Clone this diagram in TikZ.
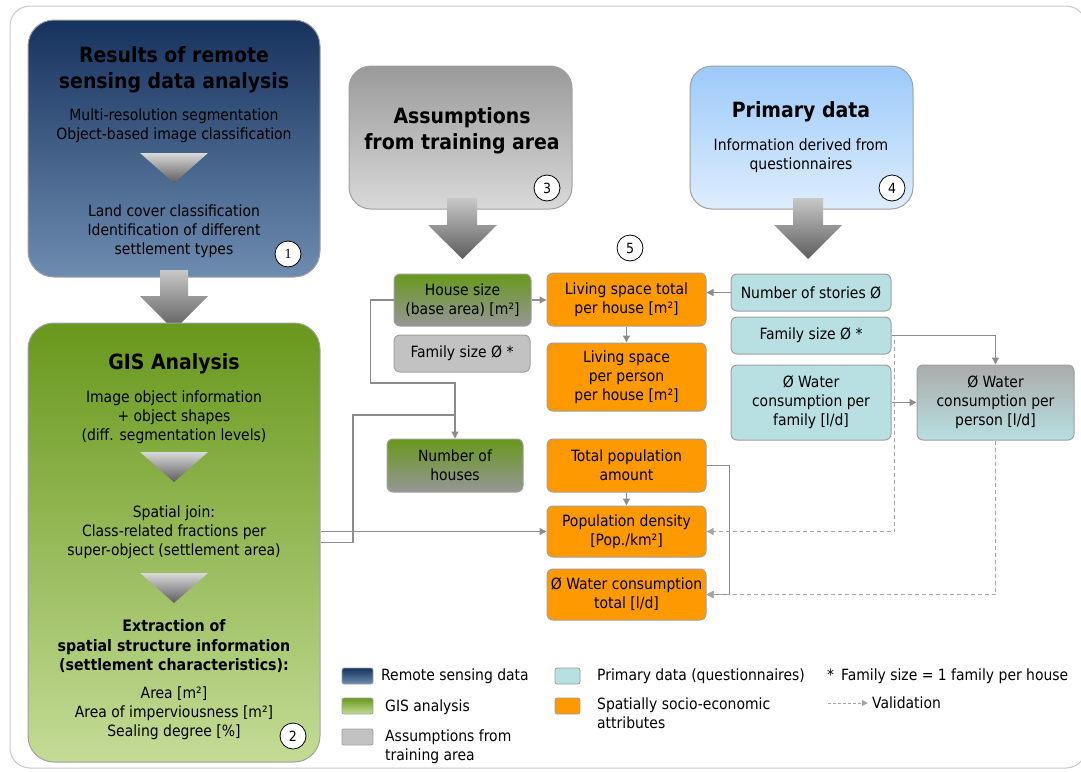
\documentclass[tikz,border=0pt]{standalone}
\usepackage{fontspec}
\setmainfont{DejaVu Sans Condensed}
\newfontfamily\numfont{Liberation Serif}
\usetikzlibrary{arrows.meta,calc}
\definecolor{navyT}{RGB}{22,50,94}
\definecolor{navyB}{RGB}{110,140,176}
\definecolor{greenT}{RGB}{104,152,28}
\definecolor{greenB}{RGB}{196,219,150}
\definecolor{grayT}{RGB}{154,154,154}
\definecolor{grayB}{RGB}{217,217,217}
\definecolor{skyT}{RGB}{156,202,250}
\definecolor{skyB}{RGB}{222,237,252}
\definecolor{arT}{RGB}{200,200,200}
\definecolor{arB}{RGB}{92,92,92}
\definecolor{orangeF}{RGB}{255,153,0}
\definecolor{tealF}{RGB}{184,223,225}
\definecolor{famgray}{RGB}{194,194,194}
\definecolor{bord}{RGB}{160,160,160}
\definecolor{connc}{RGB}{140,140,140}
\definecolor{dashc}{RGB}{165,165,165}
\definecolor{hgray}{RGB}{150,150,150}
\definecolor{frame}{RGB}{200,200,200}
\newcommand\fsN{\fontsize{15.5}{19}\selectfont}
\newcommand\fsT{\fontsize{21}{26}\selectfont\bfseries}
\newcommand\fsB{\fontsize{15.8}{19.5}\selectfont\bfseries}
\begin{document}
\begin{tikzpicture}[x=1pt,y=-1pt,
  bigbox/.style={draw=bord, line width=1pt, rounded corners=26pt, inner sep=0pt},
  sbox/.style={draw=bord, line width=1pt, rounded corners=6pt, inner sep=0pt, align=center, font=\fsN},
  txt/.style={inner sep=0pt, align=center, font=\fsN},
  ttl/.style={inner sep=0pt, align=center, font=\fsT},
  numc/.style={circle, draw=black, fill=white, line width=0.8pt, minimum size=26pt, inner sep=0pt, font=\fontsize{14}{16}\selectfont},
  conn/.style={draw=connc, line width=1.3pt, -{Triangle[length=7pt,width=7pt]}},
  line/.style={draw=connc, line width=1.3pt},
  dconn/.style={draw=dashc, line width=1.2pt, dash pattern=on 4pt off 3pt, -{Triangle[length=7pt,width=7pt]}},
  sw/.style={draw=bord, line width=0.8pt, rounded corners=2pt, inner sep=0pt},
  leg/.style={inner sep=0pt, font=\fsN, align=left}
]
\useasboundingbox (0,0) rectangle (1081,771);
% outer frame
\draw[frame, line width=1pt, rounded corners=20pt] (10,6) rectangle (1086,768);

% ---------- Box 1 ----------
\node[bigbox, top color=navyT, bottom color=navyB, minimum width=292pt, minimum height=257pt] (b1) at (174,148.5) {};
\node[ttl] (b1t) at (174,69.5) {Results of remote\\sensing data analysis};
\node[txt] (b1s) at (174,126) {Multi-resolution segmentation\\Object-based image classification};
\shade[top color=grayB, bottom color=arB] (140,153) -- (208,153) -- (174,183) -- cycle;
\node[txt] (b1r) at (174,231) {Land cover classification\\Identification of different\\settlement types};
\node[numc] (c1) at (288,254) {\numfont 1};

% arrow 1 -> 2
\shade[top color=arT, bottom color=arB] (160,270) -- (188,270) -- (188,296) -- (208,296) -- (174,330) -- (140,296) -- (160,296) -- cycle;

% ---------- Box 2 ----------
\node[bigbox, top color=greenT, bottom color=greenB, minimum width=292pt, minimum height=439pt] (b2) at (174,542.5) {};
\node[ttl] (b2t) at (174,364) {GIS Analysis};
\node[txt] (b2a) at (174,417) {Image object information\\+ object shapes\\(diff. segmentation levels)};
\shade[top color=grayB, bottom color=arB] (140,452) -- (208,452) -- (174,482) -- cycle;
\node[txt] (b2b) at (174,532) {Spatial join:\\Class-related fractions per\\super-object (settlement area)};
\shade[top color=grayB, bottom color=arB] (140,573) -- (208,573) -- (174,603) -- cycle;
\node[inner sep=0pt, align=center, font=\fsB] (b2c) at (174,646.5) {Extraction of\\spatial structure information\\(settlement characteristics):};
\node[txt] (b2d) at (174,713) {Area [m²]\\Area of imperviousness [m²]\\Sealing degree [\%]};
\node[numc] (c2) at (293,736) {2};

% ---------- Box 3 ----------
\node[bigbox, rounded corners=22pt, top color=grayT, bottom color=grayB, minimum width=223pt, minimum height=143pt] (b3) at (460.5,137.5) {};
\node[ttl] (b3t) at (462,131) {Assumptions\\from training area};
\node[numc] (c3) at (547,188) {3};
\shade[top color=arT, bottom color=arB] (447,198) -- (477,198) -- (477,225) -- (497,225) -- (462.5,259) -- (428,225) -- (447,225) -- cycle;

% ---------- Box 4 ----------
\node[bigbox, rounded corners=22pt, top color=skyT, bottom color=skyB, minimum width=223pt, minimum height=143pt] (b4) at (801.5,137.5) {};
\node[ttl] (b4t) at (801,112) {Primary data};
\node[txt] (b4s) at (801,156) {Information derived from\\questionnaires};
\node[numc] (c4) at (892,188) {4};
\shade[top color=arT, bottom color=arB] (793,198) -- (823,198) -- (823,225) -- (842,225) -- (808,259) -- (774,225) -- (793,225) -- cycle;

\node[numc] (c5) at (630,248) {5};

% ---------- small boxes ----------
\node[sbox, top color=greenT, bottom color=hgray, minimum width=137pt, minimum height=52pt] (house) at (462.5,300) {House size\\(base area) [m²]};
\node[sbox, fill=famgray, minimum width=136pt, minimum height=37pt] (famA) at (462,353.5) {Family size Ø *};
\node[sbox, top color=greenT, bottom color=hgray, minimum width=136pt, minimum height=53pt] (nhouses) at (455,465.5) {Number of\\houses};

\node[sbox, fill=orangeF, minimum width=159pt, minimum height=53pt] (lstot) at (626.5,299.5) {Living space total\\per house [m²]};
\node[sbox, fill=orangeF, minimum width=159pt, minimum height=68pt] (lspp) at (626.5,377) {Living space\\per person\\per house [m²]};
\node[sbox, fill=orangeF, minimum width=159pt, minimum height=53pt] (tpop) at (626.5,465.5) {Total population\\amount};
\node[sbox, fill=orangeF, minimum width=159pt, minimum height=51pt] (pden) at (626.5,531.5) {Population density\\{[}Pop./km²{]}};
\node[sbox, fill=orangeF, minimum width=159pt, minimum height=51pt] (wtot) at (626.5,594.5) {Ø Water consumption\\total [l/d]};

\node[sbox, fill=tealF, minimum width=160pt, minimum height=37pt] (nst) at (811,292.5) {Number of stories Ø};
\node[sbox, fill=tealF, minimum width=160pt, minimum height=37pt] (famB) at (811,335.5) {Family size Ø *};
\node[sbox, fill=tealF, minimum width=160pt, minimum height=75pt] (wfam) at (811,402.5) {Ø Water\\consumption per\\family [l/d]};
\node[sbox, top color=hgray!80, bottom color=tealF, minimum width=157pt, minimum height=75pt] (wpp) at (995.5,402.5) {Ø Water\\consumption per\\person [l/d]};

% ---------- connectors ----------
\draw[conn] (nst.west) -- (nst.west -| lstot.east);
\draw[conn] (house.east) -- (house.east -| lstot.west);
\draw[conn] (lstot.south) -- (lspp.north);
\coordinate (j1) at (455,415);
\draw[conn] (house.west) -- ++(-23,0) |- (455,383) -- (nhouses.north);
\draw[line] (b2.east) -| (353,415) -- (j1);
\draw[conn] (pden.west -| b2.east) -- (pden.west);
\draw[conn] (tpop.south) -- (pden.north);
\draw[conn] (tpop.east) -- ++(23,0) |- (wtot.east);
\draw[conn] (famB.east) -| (wpp.north);
\draw[conn] (wfam.east) -- (wpp.west);
\coordinate (d1) at ($(famB.east)+(3,4)$);
\draw[dconn] (d1) |- (pden.east);
\draw[dconn] (wpp.south) |- (wtot.east);

% ---------- legend ----------
\node[sw, top color=navyT, bottom color=navyB, minimum width=31pt, minimum height=16pt] (s1) at (357.5,676) {};
\node[leg, anchor=west] (l1) at (381,676) {Remote sensing data};
\node[sw, top color=greenT, bottom color=greenB, minimum width=31pt, minimum height=16pt] (s2) at (357.5,706) {};
\node[leg, anchor=west] (l2) at (385,707) {GIS analysis};
\node[sw, fill=famgray, minimum width=31pt, minimum height=16pt] (s3) at (357.5,737) {};
\node[leg, anchor=west] (l3) at (385,747) {Assumptions from\\training area};
\node[sw, fill=tealF, minimum width=25pt, minimum height=16pt] (s4) at (567.5,676) {};
\node[leg, anchor=west] (l4) at (597,676) {Primary data (questionnaires)};
\node[sw, fill=orangeF, minimum width=25pt, minimum height=16pt] (s5) at (567.5,706) {};
\node[leg, anchor=west] (l5) at (597,713) {Spatially socio-economic\\attributes};
\node[leg, anchor=west] (l6) at (827,676) {*\hspace{7pt}Family size = 1 family per house};
\coordinate (v1) at (828,703);
\node[leg, anchor=west] (l7) at (872,703) {Validation};
\draw[dconn, line width=1pt, dash pattern=on 3pt off 2pt, -{Triangle[length=6pt,width=6pt]}] (v1) -- ($(l7.west)+(-4,0)$);
\end{tikzpicture}
\end{document}
